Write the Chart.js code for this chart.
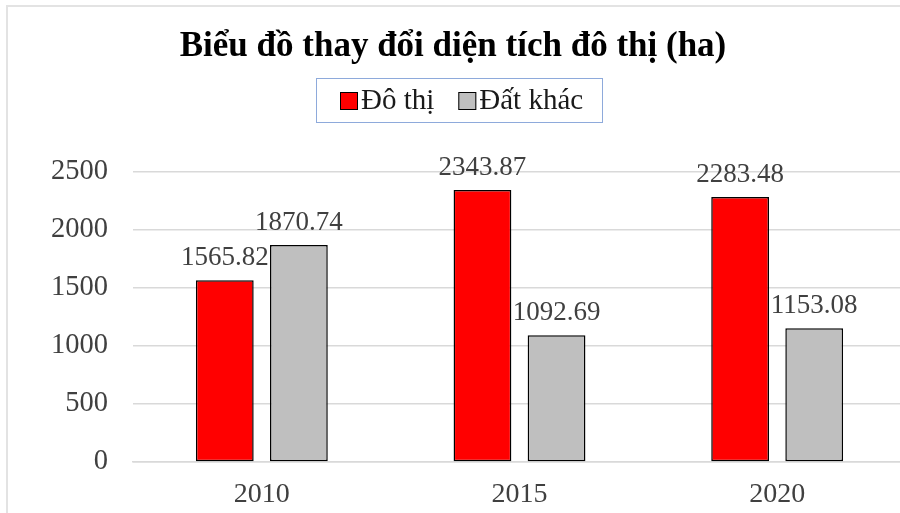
<!DOCTYPE html>
<html>
<head>
<meta charset="utf-8">
<script src="https://cdn.jsdelivr.net/npm/chart.js@4.4.1/dist/chart.umd.min.js"></script>
<style>
  html, body { margin: 0; padding: 0; background: #fff; overflow: hidden; }
  #wrap { position: relative; width: 906px; height: 513px; }
  #frame { position: absolute; left: 6px; top: 5px; width: 1000px; height: 600px;
           border-left: 2px solid #e3e3e3; border-top: 2px solid #e3e3e3; box-sizing: border-box; }
  canvas { position: absolute; left: 0; top: 0; }
</style>
</head>
<body>
<div id="wrap">
  <div id="frame"></div>
  <canvas id="chart" width="906" height="513"></canvas>
</div>
<script>
const years = ['2010', '2015', '2020'];
const urbanArea = [1565.82, 2343.87, 2283.48];
const otherLand = [1870.74, 1092.69, 1153.08];
const seriesNames = ['Đô thị', 'Đất khác'];
const seriesColors = ['#ff0000', '#bfbfbf'];
const SERIF = '"Liberation Serif", "Times New Roman", serif';

// value labels above each bar
const barLabels = {
  id: 'barLabels',
  afterDatasetsDraw(chart) {
    const ctx = chart.ctx;
    ctx.save();
    ctx.font = '27px ' + SERIF;
    ctx.fillStyle = '#404040';
    ctx.textAlign = 'center';
    ctx.textBaseline = 'bottom';
    chart.data.datasets.forEach((ds, i) => {
      chart.getDatasetMeta(i).data.forEach((bar, j) => {
        ctx.fillText(ds.data[j].toFixed(2), bar.x, bar.y - 9);
      });
    });
    ctx.restore();
  }
};

// boxed legend under the title, drawn from the datasets
const boxedLegend = {
  id: 'boxedLegend',
  afterDraw(chart) {
    const ctx = chart.ctx;
    ctx.save();
    ctx.strokeStyle = '#8eaadb';
    ctx.lineWidth = 1;
    ctx.strokeRect(316.5, 78.5, 286, 44);
    ctx.font = '29px ' + SERIF;
    ctx.textBaseline = 'middle';
    ctx.textAlign = 'left';
    let x = 340;
    const cy = 101;
    chart.data.datasets.forEach(ds => {
      ctx.fillStyle = ds.backgroundColor;
      ctx.fillRect(x, cy - 9, 18, 18);
      ctx.strokeStyle = '#000';
      ctx.strokeRect(x + 0.5, cy - 8.5, 17, 17);
      ctx.fillStyle = '#1a1a1a';
      ctx.fillText(ds.label, x + 21, cy);
      x += 21 + ctx.measureText(ds.label).width + 24;
    });
    ctx.restore();
  }
};

const chart = new Chart(document.getElementById('chart'), {
  type: 'bar',
  data: {
    labels: years,
    datasets: seriesNames.map((name, i) => ({
      label: name,
      data: i === 0 ? urbanArea : otherLand,
      backgroundColor: seriesColors[i],
      borderColor: '#000', borderWidth: 1.5, borderSkipped: false,
      categoryPercentage: 0.575, barPercentage: 0.78
    }))
  },
  options: {
    responsive: false,
    animation: false,
    layout: { padding: { top: 26, left: 0, right: 0, bottom: 1 } },
    plugins: {
      title: {
        display: true,
        text: 'Biểu đồ thay đổi diện tích đô thị (ha)',
        color: '#000',
        font: { family: SERIF, size: 35, weight: 'bold' },
        padding: { top: 0, bottom: 104 }
      },
      legend: { display: false },
      tooltip: { enabled: false }
    },
    scales: {
      x: {
        afterFit(s) { s.height = 50; },
        grid: { display: false, drawTicks: false },
        border: { color: '#d9d9d9', width: 1.5 },
        ticks: { color: '#404040', font: { family: SERIF, size: 28 }, padding: 16 }
      },
      y: {
        min: 0, max: 2500,
        afterFit(s) { s.width = 133; },
        grid: { color: '#d9d9d9', lineWidth: 1.5, drawTicks: false },
        border: { display: false },
        ticks: { stepSize: 500, color: '#404040', font: { family: SERIF, size: 28.5 }, padding: 25,
                 callback: v => String(v) }
      }
    }
  },
  plugins: [barLabels, boxedLegend]
});
</script>
</body>
</html>
